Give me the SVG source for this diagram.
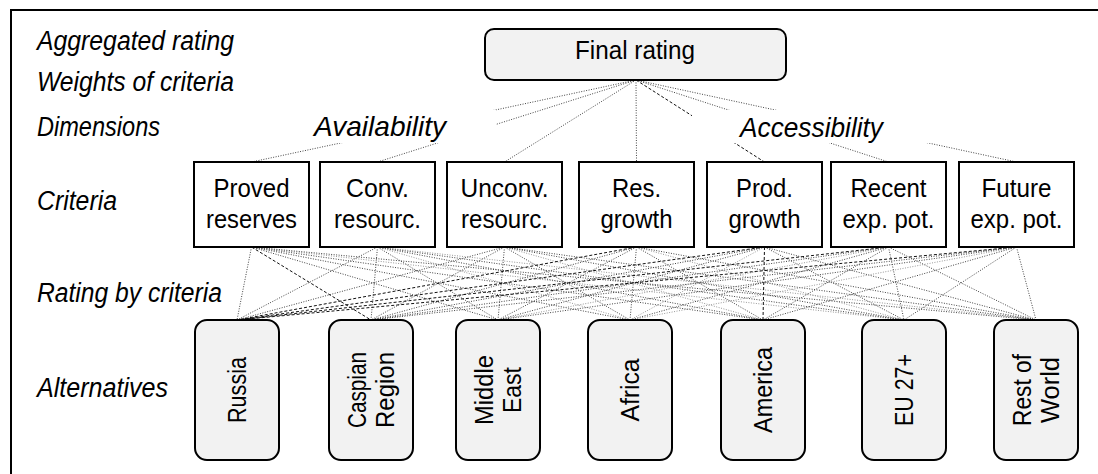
<svg xmlns="http://www.w3.org/2000/svg" width="1098" height="474" viewBox="0 0 1098 474">
<style>
text{font-family:"Liberation Sans",Arial,sans-serif;fill:#000}
.lab{font-size:27px;font-style:italic}
.dim{font-size:28.5px;font-style:italic}
.crit{font-size:25px;text-anchor:middle}
.alt{font-size:25.5px;text-anchor:middle}
.cbox{fill:#fff;stroke:#000;stroke-width:2}
.abox{fill:#f2f2f2;stroke:#000;stroke-width:2}
.m{stroke:#444;stroke-width:1;stroke-dasharray:1 1.5;fill:none}
.l{stroke:#999;stroke-width:1;stroke-dasharray:1 1.5;fill:none}
.d{stroke:#111;stroke-width:1;stroke-dasharray:3 2;fill:none}
</style>
<rect width="1098" height="474" fill="#fff"/>
<path d="M11,474V10H1098" fill="none" stroke="#000" stroke-width="2"/>
<g id="level-labels">
<text class="lab" x="37" y="50" textLength="197" lengthAdjust="spacingAndGlyphs">Aggregated rating</text>
<text class="lab" x="37" y="91" textLength="197" lengthAdjust="spacingAndGlyphs">Weights of criteria</text>
<text class="lab" x="37" y="136" textLength="123" lengthAdjust="spacingAndGlyphs">Dimensions</text>
<text class="lab" x="37" y="210" textLength="80" lengthAdjust="spacingAndGlyphs">Criteria</text>
<text class="lab" x="37" y="302" textLength="185" lengthAdjust="spacingAndGlyphs">Rating by criteria</text>
<text class="lab" x="37" y="397" textLength="131" lengthAdjust="spacingAndGlyphs">Alternatives</text>
</g>
<g id="connectors">
<line class="m" x1="636" y1="80" x2="251.5" y2="162"/>
<line class="m" x1="636" y1="80" x2="377.5" y2="162"/>
<line class="m" x1="636" y1="80" x2="504.5" y2="162"/>
<line class="m" x1="636" y1="80" x2="636.5" y2="162"/>
<line class="d" x1="636" y1="80" x2="764.5" y2="162"/>
<line class="m" x1="636" y1="80" x2="888.5" y2="162"/>
<line class="m" x1="636" y1="80" x2="1016.5" y2="162"/>
<line class="m" x1="251.5" y1="247" x2="237" y2="320"/>
<line class="d" x1="251.5" y1="247" x2="371" y2="320"/>
<line class="m" x1="251.5" y1="247" x2="498" y2="320"/>
<line class="m" x1="251.5" y1="247" x2="630" y2="320"/>
<line class="m" x1="251.5" y1="247" x2="763" y2="320"/>
<line class="l" x1="251.5" y1="247" x2="904" y2="320"/>
<line class="m" x1="251.5" y1="247" x2="1036" y2="320"/>
<line class="m" x1="377.5" y1="247" x2="237" y2="320"/>
<line class="m" x1="377.5" y1="247" x2="371" y2="320"/>
<line class="m" x1="377.5" y1="247" x2="498" y2="320"/>
<line class="l" x1="377.5" y1="247" x2="630" y2="320"/>
<line class="m" x1="377.5" y1="247" x2="763" y2="320"/>
<line class="m" x1="377.5" y1="247" x2="904" y2="320"/>
<line class="l" x1="377.5" y1="247" x2="1036" y2="320"/>
<line class="m" x1="504.5" y1="247" x2="237" y2="320"/>
<line class="m" x1="504.5" y1="247" x2="371" y2="320"/>
<line class="m" x1="504.5" y1="247" x2="498" y2="320"/>
<line class="m" x1="504.5" y1="247" x2="630" y2="320"/>
<line class="l" x1="504.5" y1="247" x2="763" y2="320"/>
<line class="m" x1="504.5" y1="247" x2="904" y2="320"/>
<line class="m" x1="504.5" y1="247" x2="1036" y2="320"/>
<line class="d" x1="636.5" y1="247" x2="237" y2="320"/>
<line class="m" x1="636.5" y1="247" x2="371" y2="320"/>
<line class="m" x1="636.5" y1="247" x2="498" y2="320"/>
<line class="m" x1="636.5" y1="247" x2="630" y2="320"/>
<line class="m" x1="636.5" y1="247" x2="763" y2="320"/>
<line class="l" x1="636.5" y1="247" x2="904" y2="320"/>
<line class="m" x1="636.5" y1="247" x2="1036" y2="320"/>
<line class="d" x1="764.5" y1="247" x2="237" y2="320"/>
<line class="m" x1="764.5" y1="247" x2="371" y2="320"/>
<line class="m" x1="764.5" y1="247" x2="498" y2="320"/>
<line class="l" x1="764.5" y1="247" x2="630" y2="320"/>
<line class="d" x1="764.5" y1="247" x2="763" y2="320"/>
<line class="m" x1="764.5" y1="247" x2="904" y2="320"/>
<line class="m" x1="764.5" y1="247" x2="1036" y2="320"/>
<line class="d" x1="888.5" y1="247" x2="237" y2="320"/>
<line class="m" x1="888.5" y1="247" x2="371" y2="320"/>
<line class="l" x1="888.5" y1="247" x2="498" y2="320"/>
<line class="m" x1="888.5" y1="247" x2="630" y2="320"/>
<line class="m" x1="888.5" y1="247" x2="763" y2="320"/>
<line class="m" x1="888.5" y1="247" x2="904" y2="320"/>
<line class="m" x1="888.5" y1="247" x2="1036" y2="320"/>
<line class="d" x1="1016.5" y1="247" x2="237" y2="320"/>
<line class="m" x1="1016.5" y1="247" x2="371" y2="320"/>
<line class="m" x1="1016.5" y1="247" x2="498" y2="320"/>
<line class="l" x1="1016.5" y1="247" x2="630" y2="320"/>
<line class="m" x1="1016.5" y1="247" x2="763" y2="320"/>
<line class="m" x1="1016.5" y1="247" x2="904" y2="320"/>
<line class="m" x1="1016.5" y1="247" x2="1036" y2="320"/>
</g>
<g id="dim-availability">
<rect x="264" y="110" width="232" height="33" fill="#fff"/>
<text class="dim" x="314" y="136" textLength="132" lengthAdjust="spacingAndGlyphs">Availability</text>
</g>
<g id="dim-accessibility">
<rect x="692" y="110" width="240" height="33" fill="#fff"/>
<text class="dim" x="740" y="137" textLength="143" lengthAdjust="spacingAndGlyphs">Accessibility</text>
</g>
<g id="final-rating">
<rect class="abox" x="485" y="29" width="301" height="51" rx="9"/>
<text x="635" y="59" font-size="25.5" text-anchor="middle" textLength="120" lengthAdjust="spacingAndGlyphs">Final rating</text>
</g>
<g id="c-proved">
<rect class="cbox" x="194" y="162" width="115" height="85"/>
<text class="crit" x="251.5" y="197" textLength="76" lengthAdjust="spacingAndGlyphs">Proved</text>
<text class="crit" x="251.5" y="228" textLength="91" lengthAdjust="spacingAndGlyphs">reserves</text>
</g>
<g id="c-conv">
<rect class="cbox" x="320" y="162" width="115" height="85"/>
<text class="crit" x="377.5" y="197" textLength="63" lengthAdjust="spacingAndGlyphs">Conv.</text>
<text class="crit" x="377.5" y="228" textLength="87" lengthAdjust="spacingAndGlyphs">resourc.</text>
</g>
<g id="c-unconv">
<rect class="cbox" x="447" y="162" width="115" height="85"/>
<text class="crit" x="504.5" y="197" textLength="88" lengthAdjust="spacingAndGlyphs">Unconv.</text>
<text class="crit" x="504.5" y="228" textLength="87" lengthAdjust="spacingAndGlyphs">resourc.</text>
</g>
<g id="c-resgrowth">
<rect class="cbox" x="579" y="162" width="115" height="85"/>
<text class="crit" x="636.5" y="197" textLength="49" lengthAdjust="spacingAndGlyphs">Res.</text>
<text class="crit" x="636.5" y="228" textLength="72" lengthAdjust="spacingAndGlyphs">growth</text>
</g>
<g id="c-prodgrowth">
<rect class="cbox" x="707" y="162" width="115" height="85"/>
<text class="crit" x="764.5" y="197" textLength="57" lengthAdjust="spacingAndGlyphs">Prod.</text>
<text class="crit" x="764.5" y="228" textLength="72" lengthAdjust="spacingAndGlyphs">growth</text>
</g>
<g id="c-recent">
<rect class="cbox" x="831" y="162" width="115" height="85"/>
<text class="crit" x="888.5" y="197" textLength="76" lengthAdjust="spacingAndGlyphs">Recent</text>
<text class="crit" x="888.5" y="228" textLength="92" lengthAdjust="spacingAndGlyphs">exp. pot.</text>
</g>
<g id="c-future">
<rect class="cbox" x="959" y="162" width="115" height="85"/>
<text class="crit" x="1016.5" y="197" textLength="70" lengthAdjust="spacingAndGlyphs">Future</text>
<text class="crit" x="1016.5" y="228" textLength="92" lengthAdjust="spacingAndGlyphs">exp. pot.</text>
</g>
<g id="a-russia">
<rect class="abox" x="195" y="320" width="84" height="140" rx="12"/>
<text class="alt" transform="translate(237,390) rotate(-90)" y="9" textLength="66" lengthAdjust="spacingAndGlyphs">Russia</text>
</g>
<g id="a-caspian">
<rect class="abox" x="329" y="320" width="84" height="140" rx="12"/>
<text class="alt" transform="translate(371,390) rotate(-90)" y="-5" textLength="76" lengthAdjust="spacingAndGlyphs">Caspian</text>
<text class="alt" transform="translate(371,390) rotate(-90)" y="23" textLength="76" lengthAdjust="spacingAndGlyphs">Region</text>
</g>
<g id="a-middleeast">
<rect class="abox" x="456" y="320" width="84" height="140" rx="12"/>
<text class="alt" transform="translate(498,390) rotate(-90)" y="-5" textLength="70" lengthAdjust="spacingAndGlyphs">Middle</text>
<text class="alt" transform="translate(498,390) rotate(-90)" y="23" textLength="46" lengthAdjust="spacingAndGlyphs">East</text>
</g>
<g id="a-africa">
<rect class="abox" x="588" y="320" width="84" height="140" rx="12"/>
<text class="alt" transform="translate(630,390) rotate(-90)" y="9" textLength="63" lengthAdjust="spacingAndGlyphs">Africa</text>
</g>
<g id="a-america">
<rect class="abox" x="721" y="320" width="84" height="140" rx="12"/>
<text class="alt" transform="translate(763,390) rotate(-90)" y="9" textLength="86" lengthAdjust="spacingAndGlyphs">America</text>
</g>
<g id="a-eu">
<rect class="abox" x="862" y="320" width="84" height="140" rx="12"/>
<text class="alt" transform="translate(904,390) rotate(-90)" y="9" textLength="72" lengthAdjust="spacingAndGlyphs">EU 27+</text>
</g>
<g id="a-rest">
<rect class="abox" x="994" y="320" width="84" height="140" rx="12"/>
<text class="alt" transform="translate(1036,390) rotate(-90)" y="-5" textLength="72" lengthAdjust="spacingAndGlyphs">Rest of</text>
<text class="alt" transform="translate(1036,390) rotate(-90)" y="23" textLength="66" lengthAdjust="spacingAndGlyphs">World</text>
</g>
</svg>
